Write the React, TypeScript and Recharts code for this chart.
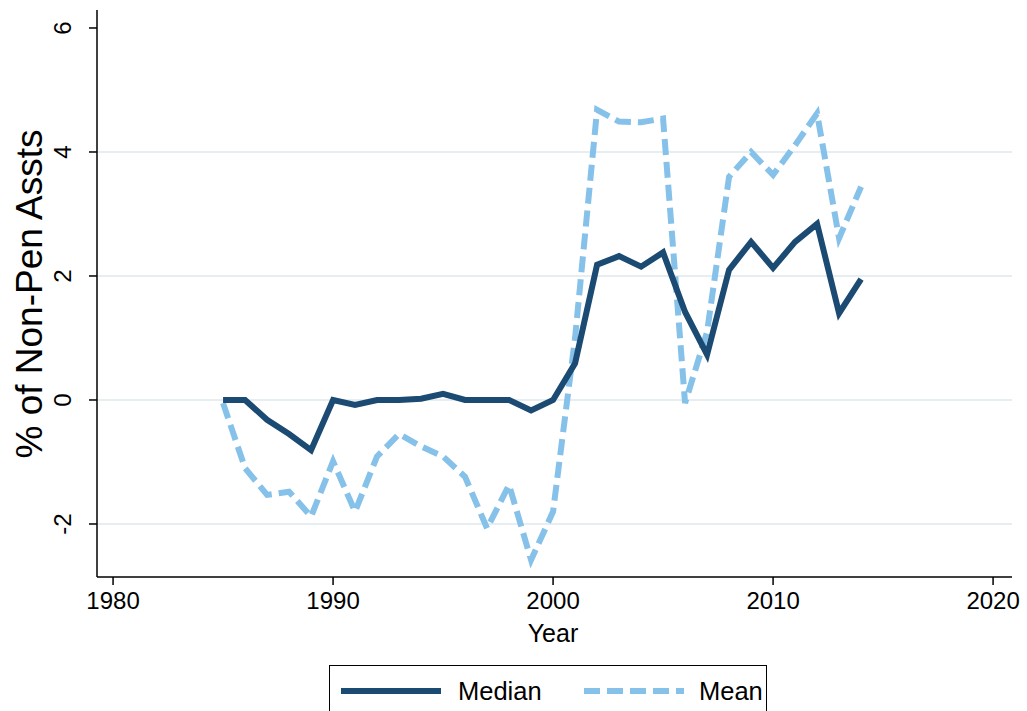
import React from 'react';
import { LineChart, Line, XAxis, YAxis, CartesianGrid } from 'recharts';

const years = [1985,1986,1987,1988,1989,1990,1991,1992,1993,1994,1995,1996,1997,1998,1999,2000,2001,2002,2003,2004,2005,2006,2007,2008,2009,2010,2011,2012,2013,2014];
const medianVals = [0,0,-0.32,-0.55,-0.81,0,-0.08,0,0,0.02,0.1,0,0,0,-0.17,0,0.59,2.18,2.32,2.15,2.38,1.42,0.73,2.1,2.55,2.13,2.55,2.84,1.4,1.95];
const meanVals = [-0.05,-1.1,-1.53,-1.48,-1.88,-0.99,-1.8,-0.91,-0.55,-0.75,-0.91,-1.24,-2.07,-1.37,-2.58,-1.8,1.0,4.68,4.49,4.48,4.54,-0.05,1.1,3.6,4.0,3.63,4.11,4.62,2.61,3.44];
const xTicks = [1980,1990,2000,2010,2020];
const yTicks = [-2,0,2,4,6];
const gridVals = [-2,0,2,4];

const data = years.map((y, i) => ({ year: y, median: medianVals[i], mean: meanVals[i] }));

const FONT = 'Liberation Sans, Arial, sans-serif';
const MEDIAN_COLOR = '#1b4a72';
const MEAN_COLOR = '#86c1ea';

const YTick = (props: any) => {
  const { y, payload } = props;
  return (
    <text transform={`translate(71,${y}) rotate(-90)`} textAnchor="middle" fontSize={24} fontFamily={FONT} fill="#000">
      {payload.value}
    </text>
  );
};

const XTick = (props: any) => {
  const { x, y, payload } = props;
  return (
    <text x={x} y={y + 22} textAnchor="middle" fontSize={24} fontFamily={FONT} fill="#000">
      {payload.value}
    </text>
  );
};

export default function App() {
  return (
    <div style={{ position: 'absolute', left: 0, top: 0, width: 1027, height: 711, background: '#fff', overflow: 'hidden' }}>
      <LineChart width={1027} height={711} data={data} margin={{ top: 10, right: 15, bottom: 84, left: 0 }}>
        <CartesianGrid vertical={false} horizontalValues={gridVals} stroke="#e6eef1" strokeWidth={2} />
        <XAxis
          dataKey="year"
          type="number"
          domain={[1979.27, 2020.86]}
          ticks={xTicks}
          allowDataOverflow
          tick={<XTick />}
          tickSize={8}
          stroke="#000"
          strokeWidth={1.5}
          height={50}
          label={{
            content: (p: any) => (
              <text x={553} y={642} textAnchor="middle" fontSize={25} fontFamily={FONT} fill="#000">
                Year
              </text>
            ),
          }}
        />
        <YAxis
          type="number"
          domain={[-2.855, 6.29]}
          ticks={yTicks}
          allowDataOverflow
          tick={<YTick />}
          tickSize={8}
          stroke="#000"
          strokeWidth={1.5}
          width={97}
          label={{
            content: (p: any) => (
              <text transform={`translate(42,294) rotate(-90)`} textAnchor="middle" fontSize={37} fontFamily={FONT} fill="#000">
                % of Non-Pen Assts
              </text>
            ),
          }}
        />
        <Line dataKey="mean" stroke={MEAN_COLOR} strokeWidth={6} strokeDasharray="16 7" dot={false} isAnimationActive={false} strokeLinejoin="miter" />
        <Line dataKey="median" stroke={MEDIAN_COLOR} strokeWidth={6} dot={false} isAnimationActive={false} strokeLinejoin="miter" />
      </LineChart>
      <div style={{ position: 'absolute', left: 329, top: 665, width: 438, height: 60, border: '1.5px solid #000', boxSizing: 'border-box', background: '#fff' }}>
        <svg width={438} height={60} style={{ position: 'absolute', left: 0, top: 0 }}>
          <line x1={11} x2={111} y1={25} y2={25} stroke={MEDIAN_COLOR} strokeWidth={6} />
          <text x={128} y={34} fontSize={25.5} fontFamily={FONT} fill="#000">Median</text>
          <line x1={254} x2={354} y1={25} y2={25} stroke={MEAN_COLOR} strokeWidth={6} strokeDasharray="16 7" />
          <text x={369} y={34} fontSize={25.5} fontFamily={FONT} fill="#000">Mean</text>
        </svg>
      </div>
    </div>
  );
}
